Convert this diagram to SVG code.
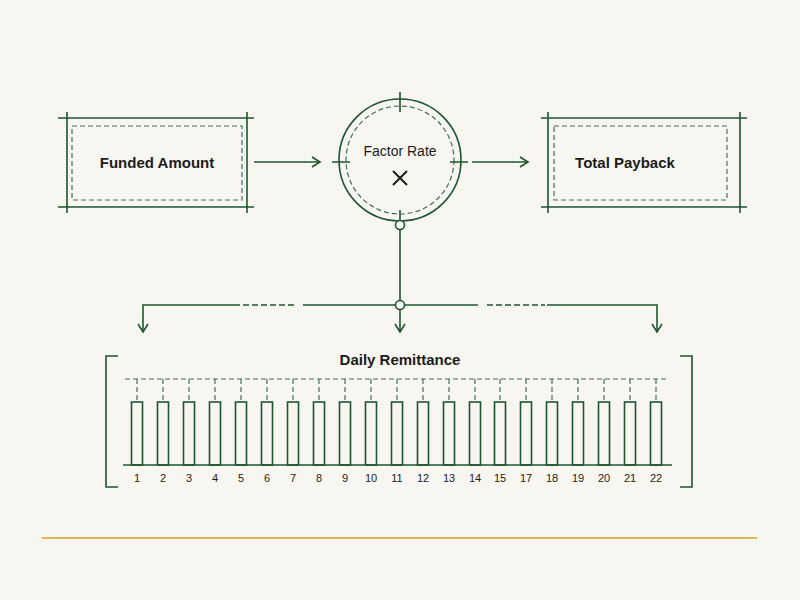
<svg xmlns="http://www.w3.org/2000/svg" width="800" height="600" viewBox="0 0 800 600">
<defs>
<style>
.s{stroke:#1e5530;stroke-width:1.6;fill:none}
.d{stroke:#3f7350;stroke-width:1.2;fill:none;stroke-dasharray:5 3}
.t{font-family:"Liberation Sans",Arial,sans-serif;font-weight:bold;fill:#1c1c1c;text-anchor:middle}
.fr{font-weight:normal}
.n{font-family:"Liberation Sans",Arial,sans-serif;font-size:11px;fill:#1c1c1c;text-anchor:middle}
.b{stroke:#1e5530;stroke-width:1.6;fill:#f8f6f1}
</style>
<marker id="a" viewBox="0 0 12 12" refX="10" refY="6" markerWidth="12" markerHeight="12" markerUnits="userSpaceOnUse" orient="auto"><path d="M2,1 L10,6 L2,11" fill="none" stroke="#1e5530" stroke-width="1.6"/></marker>
</defs>
<rect width="800" height="600" fill="#f8f6f1"/>
<g id="funded">
<path class="s" d="M58,118H254M58,207H254M67,112V213M247,112V213"/>
<rect class="d" x="72" y="126" width="170" height="74"/>
<text class="t" x="157" y="168" font-size="15">Funded Amount</text>
</g>
<g id="factor">
<circle class="s" cx="400" cy="160" r="61"/>
<circle class="d" cx="400" cy="160" r="54"/>
<path class="s" d="M400,92V112M400,210V222M332,162H350M450,162H468"/>
<text class="t fr" x="400" y="156" font-size="14">Factor Rate</text>
<path d="M393,171L407,185M407,171L393,185" stroke="#1c1c1c" stroke-width="2" fill="none"/>
</g>
<g id="payback">
<path class="s" d="M541,118H747M541,207H747M548,112V213M740,112V213"/>
<rect class="d" x="554" y="126" width="173" height="74"/>
<text class="t" x="625" y="168" font-size="15">Total Payback</text>
</g>
<g id="connectors">
<path class="s" d="M254,162H320" marker-end="url(#a)"/>
<path class="s" d="M472,162H528" marker-end="url(#a)"/>
<path class="s" d="M400,230V300"/>
<path class="s" d="M240,305H143V332" marker-end="url(#a)"/>
<path class="s" d="M303,305H395"/>
<path class="s" d="M405,305H478"/>
<path class="s" d="M547,305H657V332" marker-end="url(#a)"/>
<path d="M243,305H297M487,305H545" stroke="#1e5530" stroke-width="1.5" stroke-dasharray="6 3" fill="none"/>
<path class="s" d="M400,310V332" marker-end="url(#a)"/>
<circle class="b" cx="400" cy="225" r="4.5"/>
<circle class="b" cx="400" cy="305" r="4.5"/>
</g>
<g id="remittance">
<path class="s" d="M118,356H106V487H118M680,356H692V487H680"/>
<text class="t" x="400" y="365" font-size="15">Daily Remittance</text>
<path class="d" d="M125,379H668"/>
<path class="s" d="M123,465H672"/>
<g id="bars">
<g transform="translate(137,0)"><path class="d" d="M0,379V401"/><rect class="s" x="-5.5" y="402" width="11" height="63"/><text class="n" y="482">1</text></g>
<g transform="translate(163,0)"><path class="d" d="M0,379V401"/><rect class="s" x="-5.5" y="402" width="11" height="63"/><text class="n" y="482">2</text></g>
<g transform="translate(189,0)"><path class="d" d="M0,379V401"/><rect class="s" x="-5.5" y="402" width="11" height="63"/><text class="n" y="482">3</text></g>
<g transform="translate(215,0)"><path class="d" d="M0,379V401"/><rect class="s" x="-5.5" y="402" width="11" height="63"/><text class="n" y="482">4</text></g>
<g transform="translate(241,0)"><path class="d" d="M0,379V401"/><rect class="s" x="-5.5" y="402" width="11" height="63"/><text class="n" y="482">5</text></g>
<g transform="translate(267,0)"><path class="d" d="M0,379V401"/><rect class="s" x="-5.5" y="402" width="11" height="63"/><text class="n" y="482">6</text></g>
<g transform="translate(293,0)"><path class="d" d="M0,379V401"/><rect class="s" x="-5.5" y="402" width="11" height="63"/><text class="n" y="482">7</text></g>
<g transform="translate(319,0)"><path class="d" d="M0,379V401"/><rect class="s" x="-5.5" y="402" width="11" height="63"/><text class="n" y="482">8</text></g>
<g transform="translate(345,0)"><path class="d" d="M0,379V401"/><rect class="s" x="-5.5" y="402" width="11" height="63"/><text class="n" y="482">9</text></g>
<g transform="translate(371,0)"><path class="d" d="M0,379V401"/><rect class="s" x="-5.5" y="402" width="11" height="63"/><text class="n" y="482">10</text></g>
<g transform="translate(397,0)"><path class="d" d="M0,379V401"/><rect class="s" x="-5.5" y="402" width="11" height="63"/><text class="n" y="482">11</text></g>
<g transform="translate(423,0)"><path class="d" d="M0,379V401"/><rect class="s" x="-5.5" y="402" width="11" height="63"/><text class="n" y="482">12</text></g>
<g transform="translate(449,0)"><path class="d" d="M0,379V401"/><rect class="s" x="-5.5" y="402" width="11" height="63"/><text class="n" y="482">13</text></g>
<g transform="translate(475,0)"><path class="d" d="M0,379V401"/><rect class="s" x="-5.5" y="402" width="11" height="63"/><text class="n" y="482">14</text></g>
<g transform="translate(500,0)"><path class="d" d="M0,379V401"/><rect class="s" x="-5.5" y="402" width="11" height="63"/><text class="n" y="482">15</text></g>
<g transform="translate(526,0)"><path class="d" d="M0,379V401"/><rect class="s" x="-5.5" y="402" width="11" height="63"/><text class="n" y="482">17</text></g>
<g transform="translate(552,0)"><path class="d" d="M0,379V401"/><rect class="s" x="-5.5" y="402" width="11" height="63"/><text class="n" y="482">18</text></g>
<g transform="translate(578,0)"><path class="d" d="M0,379V401"/><rect class="s" x="-5.5" y="402" width="11" height="63"/><text class="n" y="482">19</text></g>
<g transform="translate(604,0)"><path class="d" d="M0,379V401"/><rect class="s" x="-5.5" y="402" width="11" height="63"/><text class="n" y="482">20</text></g>
<g transform="translate(630,0)"><path class="d" d="M0,379V401"/><rect class="s" x="-5.5" y="402" width="11" height="63"/><text class="n" y="482">21</text></g>
<g transform="translate(656,0)"><path class="d" d="M0,379V401"/><rect class="s" x="-5.5" y="402" width="11" height="63"/><text class="n" y="482">22</text></g>
</g>
</g>
<path d="M42,538H757" stroke="#d9a21b" stroke-width="1.5"/>
</svg>
